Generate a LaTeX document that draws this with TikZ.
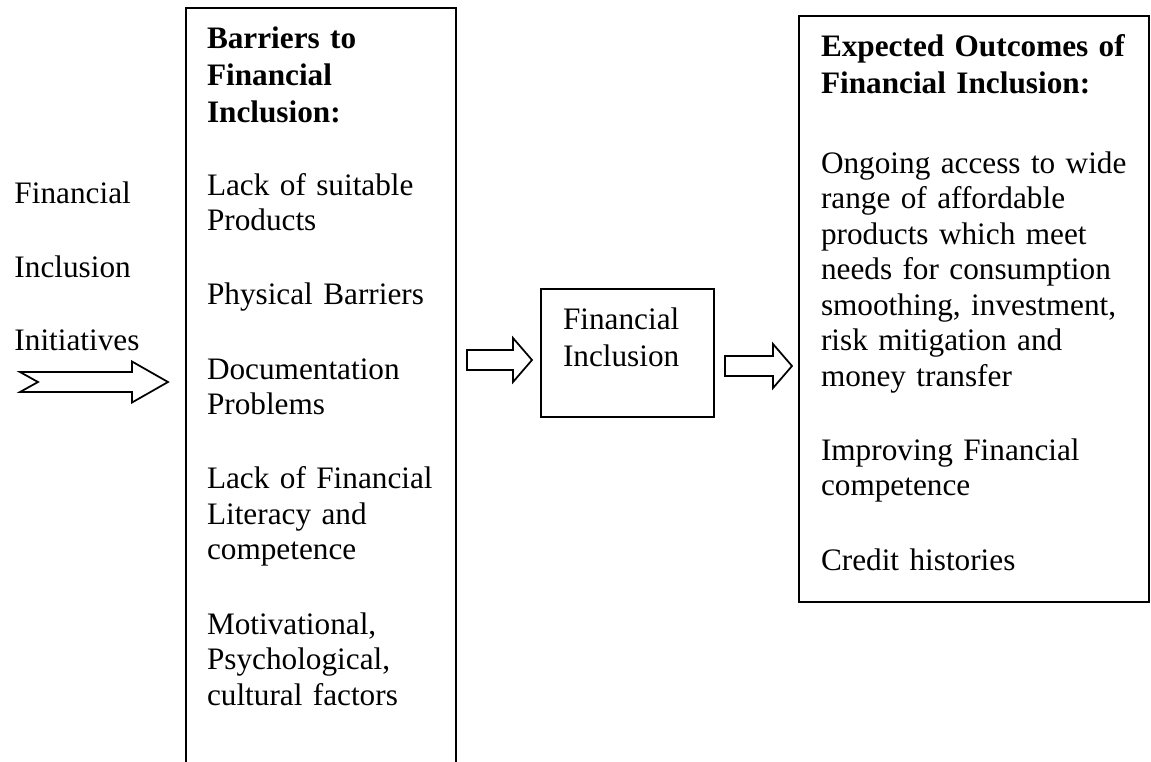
\documentclass[tikz,border=0pt]{standalone}
\usepackage{fontspec}
\setmainfont{Liberation Serif}
\usetikzlibrary{calc}
\newcommand{\toppad}{\rule{0pt}{10pt}}
\newcommand{\botpad}[1]{\rule[-#1]{0pt}{#1}}
\tikzset{
  box/.style={
    draw,
    line width=0.8pt,
    align=left,
    anchor=north west,
    inner xsep=8.8pt,
    inner ysep=6pt,
    font=\fontsize{12.5}{14.2}\selectfont
  },
  plaintext/.style={align=left, anchor=north west, inner sep=0pt, text width=50pt,
    font=\fontsize{12.5}{29.4}\selectfont},
  arrowbody/.style={draw, line width=0.7pt, line join=miter, fill=white},
  blockarrow/.style={arrowbody, to path={
      let \p1=(\tikztostart), \p2=(\tikztotarget) in
      (\x1,\y1+4pt) -- (\x2-#1,\y1+4pt) -- (\x2-#1,\y1+8.8pt) -- (\x2,\y1)
      -- (\x2-#1,\y1-8.8pt) -- (\x2-#1,\y1-4pt) -- (\x1,\y1-4pt) -- cycle}},
  notcharrow/.style={arrowbody, to path={
      let \p1=(\tikztostart), \p2=(\tikztotarget) in
      (\x1,\y1+4pt) -- (\x2-14.4pt,\y1+4pt) -- (\x2-14.4pt,\y1+8.2pt) -- (\x2,\y1)
      -- (\x2-14.4pt,\y1-8.2pt) -- (\x2-14.4pt,\y1-4pt) -- (\x1,\y1-4pt)
      -- (\x1+7.2pt,\y1) -- cycle}}
}

\begin{document}
\begin{tikzpicture}[x=0.4pt, y=-0.4pt]
  \useasboundingbox (0,0) rectangle (1151,761);

  \node[plaintext] (initiatives) at (14,178) {\toppad Financial\\Inclusion\\Initiatives};

  \node[box, inner xsep=8.4pt, text width=91.2pt] (barriers) at (185,7)
    {\bfseries\toppad Barriers to\\[0.6pt] Financial\\[0.6pt] Inclusion:\\[15pt]
     \mdseries Lack of suitable\\ Products\\[15.5pt]
     Physical Barriers\\[15.5pt]
     Documentation\\ Problems\\[15.5pt]
     Lack of Financial\\ Literacy and\\ competence\\[15.5pt]
     Motivational,\\ Psychological,\\ cultural factors\botpad{40pt}};

  \node[box, text width=51.6pt] (fi) at (540,288)
    {\toppad Financial\\[0.6pt] Inclusion\botpad{14.4pt}};

  \node[box, text width=122.4pt] (outcomes) at (798,15)
    {\bfseries\toppad Expected Outcomes of\\[0.6pt] Financial Inclusion:\\[17.8pt]
     \mdseries Ongoing access to wide\\ range of affordable\\ products which meet\\
     needs for consumption\\ smoothing, investment,\\ risk mitigation and\\
     money transfer\\[15.5pt]
     Improving Financial\\ competence\\[15.5pt]
     Credit histories\botpad{6.8pt}};

  \coordinate (tail) at (20,382);
  \coordinate (midA) at (0,360);
  \coordinate (midB) at (0,366);
  \draw[notcharrow] (tail) to ([xshift=-6.8pt]barriers.west |- tail);
  \draw[blockarrow=7.6pt] ([xshift=4pt]barriers.east |- midA) to ([xshift=-3.2pt]fi.west |- midA);
  \draw[blockarrow=7.6pt] ([xshift=4pt]fi.east |- midB) to ([xshift=-2.4pt]outcomes.west |- midB);
\end{tikzpicture}
\end{document}
